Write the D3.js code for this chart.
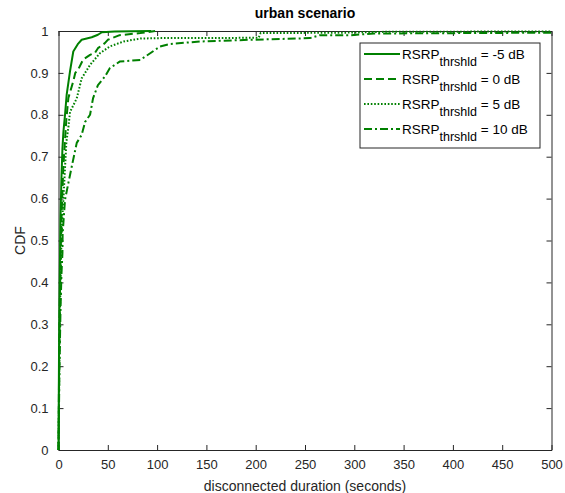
<!DOCTYPE html>
<html>
<head>
<meta charset="utf-8">
<script src="https://cdn.jsdelivr.net/npm/d3@7"></script>
<style>
  html, body { margin: 0; padding: 0; background: #fff; }
  svg { display: block; font-family: "Liberation Sans", Arial, sans-serif; }
</style>
</head>
<body>
<svg id="chart" width="565" height="493"></svg>
<script>
// Empirical CDFs of disconnected duration, [seconds, CDF]
const cdfMinus5 = [[0,0],[0.5,0.22],[1,0.36],[2,0.55],[3,0.65],[4,0.72],[5,0.76],[6.6,0.80],[8.3,0.848],[11.7,0.904],[15,0.951],[20,0.970],[23.5,0.979],[33.7,0.985],[40,0.991],[44,0.997],[57,0.999],[94,1]];
const cdf0 = [[0,0],[0.5,0.16],[1,0.30],[2,0.45],[3,0.55],[4,0.62],[5,0.68],[6.6,0.74],[8,0.79],[10,0.84],[15,0.88],[17,0.90],[20,0.908],[25,0.932],[32,0.943],[37,0.948],[40,0.959],[47,0.971],[50,0.979],[62,0.990],[83,0.995],[98,1]];
const cdf5 = [[0,0],[0.5,0.12],[1,0.25],[2,0.40],[3,0.50],[4,0.56],[5,0.60],[8,0.736],[10,0.77],[11.7,0.807],[18.5,0.839],[23.5,0.887],[32,0.919],[42,0.947],[52,0.963],[66,0.975],[83,0.982],[103,0.983],[150,0.983],[203,0.984],[205,0.995],[290,0.996],[330,0.998],[500,0.999]];
const cdf10 = [[0,0],[0.5,0.10],[1,0.20],[2,0.33],[3,0.42],[4,0.47],[4.2,0.517],[6.6,0.597],[10,0.637],[13.4,0.676],[18.5,0.733],[23.5,0.752],[27,0.783],[32,0.800],[35,0.839],[40,0.871],[47,0.891],[52,0.911],[62,0.927],[83,0.931],[93,0.947],[103,0.963],[113,0.969],[144,0.975],[194,0.979],[255,0.983],[265,0.990],[296,0.990],[320,0.994],[500,0.996]];

const seriesNames = ["-5 dB", "0 dB", "5 dB", "10 dB"];
const seriesData = [cdfMinus5, cdf0, cdf5, cdf10];
const dashStyles = [null, "8,4", "1.6,1.8", "8,3,2,3"];

const xTicks = [0, 50, 100, 150, 200, 250, 300, 350, 400, 450, 500];
const yTicks = [0, 0.1, 0.2, 0.3, 0.4, 0.5, 0.6, 0.7, 0.8, 0.9, 1];

const titleText = "urban scenario";
const xLabel = "disconnected duration (seconds)";
const yLabel = "CDF";

const svg = d3.select("#chart");
const plotLeft = 58.5, plotRight = 551.5, plotTop = 31, plotBottom = 450;
const axisColor = "#262626";
const lineColor = "#008000";

const x = d3.scaleLinear().domain([0, 500]).range([plotLeft, plotRight]);
const y = d3.scaleLinear().domain([0, 1]).range([plotBottom, plotTop]);

// Axes with inward ticks (bottom/left labelled, top/right tick only)
const tickLen = 5;
const fontSize = 13;

const gx = svg.append("g").attr("transform", `translate(0,${plotBottom})`)
  .call(d3.axisBottom(x).tickValues(xTicks).tickSizeInner(-tickLen).tickSizeOuter(0).tickPadding(10).tickFormat(d3.format("d")));
const gxTop = svg.append("g").attr("transform", `translate(0,${plotTop})`)
  .call(d3.axisTop(x).tickValues(xTicks).tickSizeInner(-tickLen).tickSizeOuter(0).tickFormat(""));
const gy = svg.append("g").attr("transform", `translate(${plotLeft},0)`)
  .call(d3.axisLeft(y).tickValues(yTicks).tickSizeInner(-tickLen).tickSizeOuter(0).tickPadding(10).tickFormat(d => d === 0 || d === 1 ? String(d) : d3.format(".1f")(d)));
const gyRight = svg.append("g").attr("transform", `translate(${plotRight},0)`)
  .call(d3.axisRight(y).tickValues(yTicks).tickSizeInner(-tickLen).tickSizeOuter(0).tickFormat(""));

[gx, gxTop, gy, gyRight].forEach(g => {
  g.select(".domain").attr("stroke", axisColor).attr("stroke-width", 1);
  g.selectAll(".tick line").attr("stroke", axisColor).attr("stroke-width", 1);
  g.selectAll(".tick text").attr("fill", axisColor).attr("font-size", fontSize)
    .attr("font-family", "Liberation Sans, Arial, sans-serif");
});

// CDF curves
const line = d3.line().x(d => x(d[0])).y(d => y(d[1]));
seriesData.forEach((data, i) => {
  svg.append("path")
    .datum(data)
    .attr("d", line)
    .attr("fill", "none")
    .attr("stroke", lineColor)
    .attr("stroke-width", 2)
    .attr("stroke-linejoin", "round")
    .attr("stroke-dasharray", dashStyles[i]);
});

// Title and axis labels
svg.append("text").attr("x", (plotLeft + plotRight) / 2).attr("y", 18)
  .attr("text-anchor", "middle").attr("font-size", 14).attr("font-weight", "bold")
  .attr("fill", "#000").text(titleText);
svg.append("text").attr("x", (plotLeft + plotRight) / 2).attr("y", 491)
  .attr("text-anchor", "middle").attr("font-size", 14).attr("fill", axisColor).text(xLabel);
svg.append("text").attr("transform", `translate(25,${(plotTop + plotBottom) / 2}) rotate(-90)`)
  .attr("text-anchor", "middle").attr("font-size", 14).attr("fill", axisColor).text(yLabel);

// Legend
const lg = svg.append("g");
const boxX = 360, boxY = 43, boxW = 180, boxH = 105;
lg.append("rect").attr("x", boxX).attr("y", boxY).attr("width", boxW).attr("height", boxH)
  .attr("fill", "#fff").attr("stroke", axisColor).attr("stroke-width", 1);
seriesNames.forEach((name, i) => {
  const cy = boxY + 11 + i * 25;
  lg.append("line").attr("x1", boxX + 4).attr("x2", boxX + 40).attr("y1", cy).attr("y2", cy)
    .attr("stroke", lineColor).attr("stroke-width", 2).attr("stroke-dasharray", dashStyles[i]);
  const t = lg.append("text").attr("x", boxX + 42).attr("y", cy + 5)
    .attr("font-size", 13.5).attr("fill", "#000");
  t.append("tspan").text("RSRP");
  t.append("tspan").attr("dy", 7).attr("font-size", 12.5).text("thrshld");
  t.append("tspan").attr("dy", -7).text(" = " + name);
});
</script>
</body>
</html>
